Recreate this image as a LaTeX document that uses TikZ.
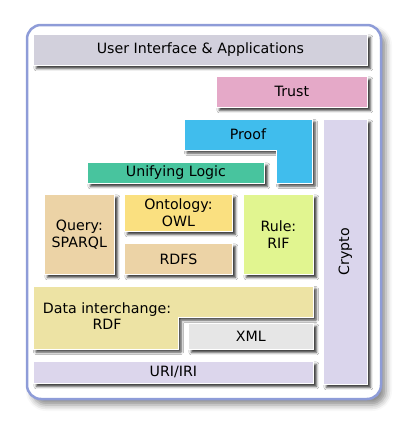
\documentclass[tikz,border=0pt]{standalone}
\usepackage{fontspec}
\setmainfont{DejaVu Sans}
\usepackage{tikz}
\usetikzlibrary{shadows.blur}
\definecolor{uicol}{HTML}{D2D0DC}
\definecolor{trustcol}{HTML}{E5A9C8}
\definecolor{proofcol}{HTML}{40BDED}
\definecolor{cryptocol}{HTML}{DAD5EC}
\definecolor{logiccol}{HTML}{48C49E}
\definecolor{querycol}{HTML}{ECD3A6}
\definecolor{owlcol}{HTML}{FAE080}
\definecolor{rifcol}{HTML}{E1F590}
\definecolor{rdfcol}{HTML}{EDE3A4}
\definecolor{xmlcol}{HTML}{E6E6E6}
\definecolor{uricol}{HTML}{DCD6EC}
\definecolor{framecol}{HTML}{8E9CD8}
\tikzset{
  frame/.style={draw=framecol, line width=2.5pt, rounded corners=14pt, fill=white,
                blur shadow={shadow xshift=5pt, shadow yshift=-6pt, shadow blur radius=6pt, shadow opacity=45}},
  layer/.style={rectangle, draw=white, line width=0.8pt, anchor=north west, inner sep=0pt,
                align=center, font=\fontsize{14.2}{16.5}\selectfont,
                blur shadow={shadow xshift=3pt, shadow yshift=-3pt, shadow blur radius=2.5pt, shadow opacity=80}},
  lshape/.style={draw=white, line width=0.8pt,
                blur shadow={shadow xshift=3pt, shadow yshift=-3pt, shadow blur radius=2.5pt, shadow opacity=80}},
  label/.style={align=center, inner sep=0pt, font=\fontsize{14.2}{16.5}\selectfont}
}

\begin{document}
\begin{tikzpicture}[x=1pt, y=-1pt]
    \useasboundingbox (0,0) rectangle (412,431);
    \draw[frame] (27,25) rectangle (381,399);

    \node[layer, fill=uicol, minimum width=334pt, minimum height=31pt] (ui) at (33,34) {User Interface \& Applications};
    \node[layer, fill=trustcol, minimum width=151pt, minimum height=31pt] (trust) at (216,76) {Trust};

    % proof is an L
    \path[lshape, fill=proofcol] (184,119) -- (312,119) -- (312,183) -- (276,183) -- (276,150) -- (184,150) -- cycle;
    \node[label] (proof) at (248,134.5) {Proof};

    \node[layer, fill=cryptocol, minimum width=44pt, minimum height=265pt] (crypto) at (323,119) {};
    \node[label, rotate=90] (cryptotext) at (crypto.center) {Crypto};

    \node[layer, fill=logiccol, minimum width=177pt, minimum height=21pt] (logic) at (87,162) {Unifying Logic};

    \node[layer, fill=querycol, minimum width=70pt, minimum height=80pt] (query) at (44,194) {Query:\\SPARQL};
    \node[layer, fill=owlcol, minimum width=108pt, minimum height=37pt] (owl) at (124,194) {Ontology:\\OWL};
    \node[layer, fill=querycol, minimum width=108pt, minimum height=31pt] (rdfs) at (124,243) {RDFS};
    \node[layer, fill=rifcol, minimum width=70pt, minimum height=80pt] (rif) at (243,194) {Rule:\\RIF};

    % data interchange is an L too
    \path[lshape, fill=rdfcol] (33,286) -- (313,286) -- (313,317) -- (178,317) -- (178,349) -- (33,349) -- cycle;
    \node[label] (rdf) at (107,316) {Data interchange:\\RDF};

    \node[layer, fill=xmlcol, minimum width=125pt, minimum height=26pt] (xml) at (188,323) {XML};
    \node[layer, fill=uricol, minimum width=280pt, minimum height=22pt] (uri) at (33,361) {URI/IRI};
\end{tikzpicture}
\end{document}
